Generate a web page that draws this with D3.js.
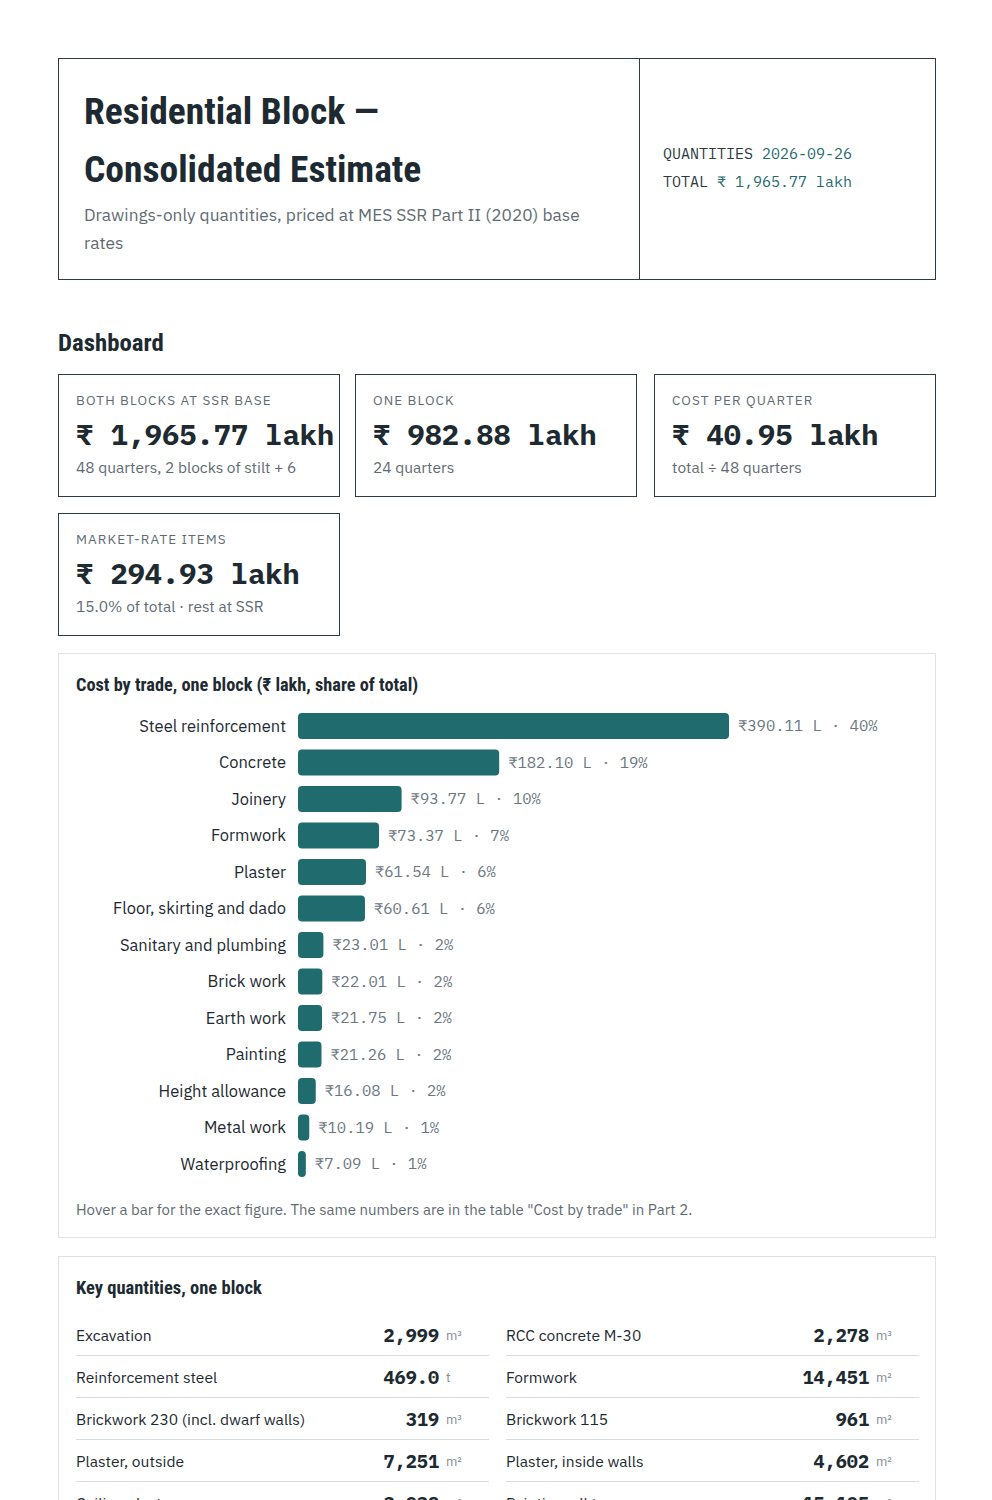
<!DOCTYPE html>
<html>
<head>
<meta charset="utf-8">
<script src="https://cdn.jsdelivr.net/npm/d3@7"></script>
<style>
  html, body { margin:0; padding:0; background:#fff; }
  body { width:992px; height:1500px; overflow:hidden; position:relative;
         font-family:"IBM Plex Sans","Noto Sans","Open Sans",sans-serif; color:#1d2a31; }
  .abs { position:absolute; box-sizing:border-box; }
  .cond { font-family:"Liberation Sans Narrow","Roboto Condensed","DejaVu Sans Condensed","Arial Narrow",sans-serif; font-weight:700; }
  .mono { font-family:"IBM Plex Mono","DejaVu Sans Mono","Liberation Mono",monospace; }
  .box { border:1px solid #2e3b42; }
  .panel { border:1px solid #dde3e6; }
  .teal { color:#1f6b6e; }
  .cardlab { font-size:13.5px; letter-spacing:1.1px; color:#5f6b73; text-transform:uppercase; white-space:nowrap; }
  .cardval { font-size:28.7px; font-weight:700; color:#1d2a31; white-space:nowrap; }
  .cardsub { font-size:15.5px; color:#5f6b73; white-space:nowrap; }
</style>
</head>
<body>
<script>
// ---------- data ----------
const titleLines = ["Residential Block —", "Consolidated Estimate"];
const subtitle = "Drawings-only quantities, priced at MES SSR Part II (2020) base rates";
const metaLabels = ["QUANTITIES", "TOTAL"];
const metaValues = ["2026-09-26", "₹ 1,965.77 lakh"];

const cardLabels = ["Both blocks at SSR base", "One block", "Cost per quarter", "Market-rate items"];
const cardValues = ["₹ 1,965.77 lakh", "₹ 982.88 lakh", "₹ 40.95 lakh", "₹ 294.93 lakh"];
const cardNotes  = ["48 quarters, 2 blocks of stilt + 6", "24 quarters", "total ÷ 48 quarters", "15.0% of total · rest at SSR"];

const trades = ["Steel reinforcement","Concrete","Joinery","Formwork","Plaster","Floor, skirting and dado",
  "Sanitary and plumbing","Brick work","Earth work","Painting","Height allowance","Metal work","Waterproofing"];
const tradeCost = [390.11,182.10,93.77,73.37,61.54,60.61,23.01,22.01,21.75,21.26,16.08,10.19,7.09];
const tradeShare = [40,19,10,7,6,6,2,2,2,2,2,1,1];

const qtyNames = ["Excavation","RCC concrete M-30","Reinforcement steel","Formwork","Brickwork 230 (incl. dwarf walls)",
  "Brickwork 115","Plaster, outside","Plaster, inside walls","Ceiling plaster","Painting, all types"];
const qtyValues = ["2,999","2,278","469.0","14,451","319","961","7,251","4,602","3,038","15,105"];
const qtyUnits = ["m³","m³","t","m²","m³","m²","m²","m²","m²","m²"];

// ---------- page ----------
const body = d3.select("body");

// header box
body.append("div").attr("class","abs box").style("left","58px").style("top","58px").style("width","878px").style("height","222px");
body.append("div").attr("class","abs").style("left","639px").style("top","58px").style("width","1px").style("height","222px").style("background","#2e3b42");
titleLines.forEach((t,i)=>{
  body.append("div").attr("class","abs cond").style("left","84px").style("top",(89+i*58)+"px")
    .style("font-size","37.5px").style("line-height","44px").style("white-space","nowrap").style("color","#1d2a31").text(t);
});
body.append("div").attr("class","abs").style("left","84px").style("top","201px").style("width","520px")
  .style("font-size","17.3px").style("line-height","28px").style("color","#5f6b73").text(subtitle);
metaLabels.forEach((l,i)=>{
  const d = body.append("div").attr("class","abs mono").style("left","663px").style("top",(144+i*28)+"px")
    .style("font-size","15px").style("white-space","nowrap").style("color","#2b3a42");
  d.append("span").text(l+" ");
  d.append("span").attr("class","teal").text(metaValues[i]);
});

// Dashboard heading
body.append("div").attr("class","abs cond").style("left","58px").style("top","327px")
  .style("font-size","24.8px").style("line-height","32px").text("Dashboard");

// cards
const cardPos = [[58,374],[355,374],[654,374],[58,513]];
cardLabels.forEach((l,i)=>{
  const [x,y] = cardPos[i];
  const c = body.append("div").attr("class","abs box").style("left",x+"px").style("top",y+"px")
    .style("width","282px").style("height","123px");
  c.append("div").attr("class","abs cardlab").style("left","17px").style("top","16px").text(l);
  c.append("div").attr("class","abs mono cardval").style("left","17px").style("top","40px").style("line-height","40px").text(cardValues[i]);
  c.append("div").attr("class","abs cardsub").style("left","17px").style("top","82px").text(cardNotes[i]);
});

// chart panel
const panel = body.append("div").attr("class","abs panel").style("left","58px").style("top","653px")
  .style("width","878px").style("height","585px");
panel.append("div").attr("class","abs cond").style("left","17px").style("top","19px")
  .style("font-size","18.3px").style("line-height","24px").text("Cost by trade, one block (₹ lakh, share of total)");

const svg = panel.append("svg").attr("class","abs").style("left","-1px").style("top","-1px")
  .attr("width",878).attr("height",540);

const x0 = 240, barMax = 431;
const x = d3.scaleLinear().domain([0, d3.max(tradeCost)]).range([0, barMax]);
const step = 36.5, bh = 26;
const y = d3.scaleBand().domain(trades)
  .range([60 - (step-bh)/2, 60 - (step-bh)/2 + step*trades.length])
  .paddingInner((step-bh)/step).paddingOuter((step-bh)/step/2);

const g = svg.selectAll("g.row").data(trades).join("g").attr("class","row");
g.append("rect")
  .attr("x", x0).attr("y", d=>y(d)).attr("height", y.bandwidth())
  .attr("width", (d,i)=>Math.max(x(tradeCost[i]), 7))
  .attr("rx",4).attr("fill","#1f6b6e");
g.append("text").attr("x", x0-12).attr("y", d=>y(d)+y.bandwidth()/2).attr("dy","0.35em")
  .attr("text-anchor","end").attr("font-size","16.5px").attr("fill","#1d2a31")
  .attr("font-family",'"IBM Plex Sans","Noto Sans","Open Sans",sans-serif').text(d=>d);
g.append("text").attr("x",(d,i)=>x0+Math.max(x(tradeCost[i]),7)+9).attr("y", d=>y(d)+y.bandwidth()/2).attr("dy","0.35em")
  .attr("font-size","15.5px").attr("fill","#6b777f")
  .attr("font-family",'"IBM Plex Mono","DejaVu Sans Mono","Liberation Mono",monospace')
  .text((d,i)=>"₹"+tradeCost[i].toFixed(2)+" L · "+tradeShare[i]+"%");

panel.append("div").attr("class","abs").style("left","17px").style("top","546px")
  .style("font-size","15px").style("color","#5f6b73").style("white-space","nowrap")
  .text('Hover a bar for the exact figure. The same numbers are in the table "Cost by trade" in Part 2.');

// key quantities panel
const qp = body.append("div").attr("class","abs panel").style("left","58px").style("top","1256px")
  .style("width","878px").style("height","400px");
qp.append("div").attr("class","abs cond").style("left","17px").style("top","19px")
  .style("font-size","18.5px").style("line-height","24px").text("Key quantities, one block");

qtyNames.forEach((n,i)=>{
  const col = i%2, row = Math.floor(i/2);
  const left = 17 + col*430, top = 65 + row*42;
  const r = qp.append("div").attr("class","abs").style("left",left+"px").style("top",top+"px")
    .style("width","413px").style("height","42px");
  r.append("div").attr("class","abs").style("left","0px").style("top","0px").style("line-height","26px")
    .style("font-size","15.6px").style("color","#1d2a31").style("white-space","nowrap").text(n);
  r.append("div").attr("class","abs mono").style("right","50px").style("top","0px").style("line-height","26px")
    .style("font-size","18.5px").style("font-weight","700").style("color","#1d2a31").text(qtyValues[i]);
  r.append("div").attr("class","abs").style("left","370px").style("top","1px").style("line-height","26px")
    .style("font-size","13px").style("color","#7f8a91").text(qtyUnits[i]);
  r.append("div").attr("class","abs").style("left","0px").style("top","33px").style("width","413px")
    .style("height","1px").style("background","#d6dde1");
});
</script>
</body>
</html>
